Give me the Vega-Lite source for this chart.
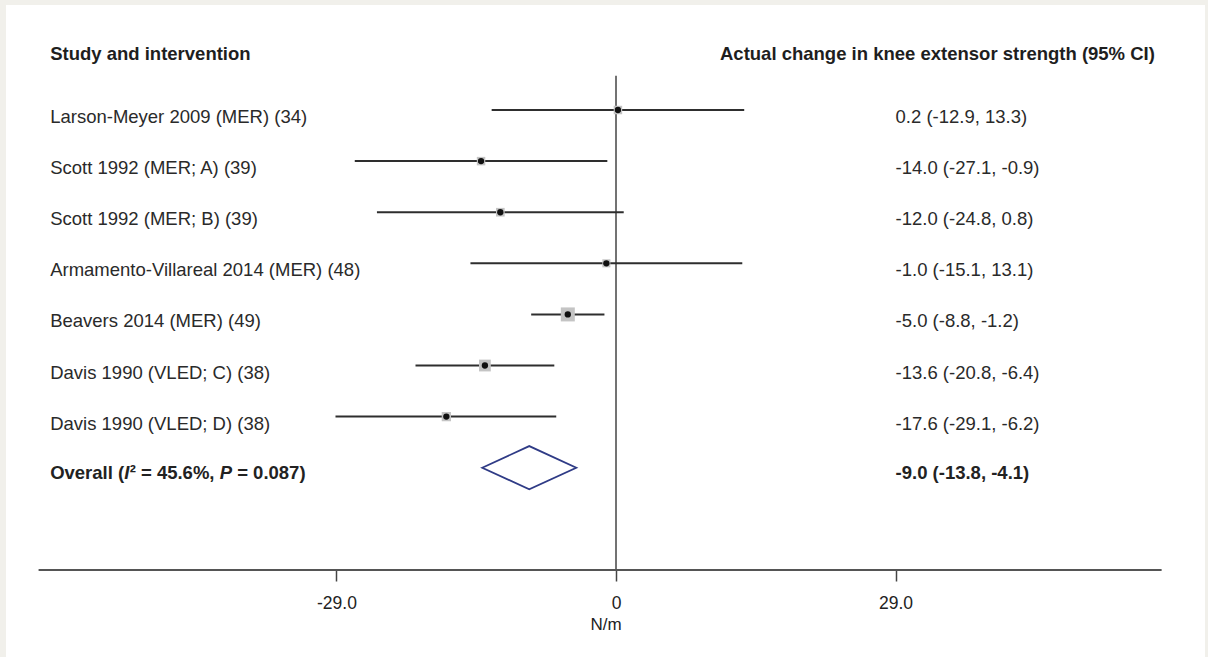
{
  "$schema": "https://vega.github.io/schema/vega-lite/v6.json",
  "width": 1199,
  "height": 652,
  "autosize": {"type": "none"},
  "padding": {"left": 6, "top": 5, "right": 3, "bottom": 0},
  "background": "#f1f0eb",
  "data": {"values": [{}]},
  "config": {
    "view": {"fill": "white", "stroke": null},
    "font": "Liberation Sans",
    "axisX": {
      "domain": false,
      "grid": false,
      "offset": -87,
      "tickSize": 11,
      "tickWidth": 1.5,
      "tickColor": "#444",
      "labelFontSize": 17.5,
      "labelColor": "#222",
      "labelFont": "Liberation Sans",
      "labelPadding": 13,
      "titleFont": "Liberation Sans",
      "titleFontSize": 17,
      "titleFontWeight": "normal",
      "titleColor": "#222",
      "titlePadding": 5
    }
  },
  "datasets": {
    "studies": [
      {"study": "Larson-Meyer 2009 (MER) (34)", "row": 1, "est": 0.2, "lower": -12.9, "upper": 13.3, "ci": "0.2 (-12.9, 13.3)", "weight": 10.2},
      {"study": "Scott 1992 (MER; A) (39)", "row": 2, "est": -14.0, "lower": -27.1, "upper": -0.9, "ci": "-14.0 (-27.1, -0.9)", "weight": 10.2},
      {"study": "Scott 1992 (MER; B) (39)", "row": 3, "est": -12.0, "lower": -24.8, "upper": 0.8, "ci": "-12.0 (-24.8, 0.8)", "weight": 10.6},
      {"study": "Armamento-Villareal 2014 (MER) (48)", "row": 4, "est": -1.0, "lower": -15.1, "upper": 13.1, "ci": "-1.0 (-15.1, 13.1)", "weight": 9.2},
      {"study": "Beavers 2014 (MER) (49)", "row": 5, "est": -5.0, "lower": -8.8, "upper": -1.2, "ci": "-5.0 (-8.8, -1.2)", "weight": 27.8},
      {"study": "Davis 1990 (VLED; C) (38)", "row": 6, "est": -13.6, "lower": -20.8, "upper": -6.4, "ci": "-13.6 (-20.8, -6.4)", "weight": 19.8},
      {"study": "Davis 1990 (VLED; D) (38)", "row": 7, "est": -17.6, "lower": -29.1, "upper": -6.2, "ci": "-17.6 (-29.1, -6.2)", "weight": 12.2}
    ],
    "overall": [
      {"p1": "Overall (", "p2": "I", "p3": "² = 45.6%,", "p4": "P", "p5": "= 0.087)", "row": 8, "est": -9.0, "lower": -13.8, "upper": -4.1, "ci": "-9.0 (-13.8, -4.1)"}
    ],
    "headers": [
      {"left": "Study and intervention", "right": "Actual change in knee extensor strength (95% CI)", "row": 0}
    ]
  },
  "layer": [
    {
      "mark": {"type": "rule", "color": "#444", "strokeWidth": 1.5},
      "encoding": {
        "x": {
          "datum": 0, "type": "quantitative",
          "scale": {"domain": [-63.28, 61.10], "nice": false, "zero": false},
          "title": "N/m",
          "axis": {"values": [-29, 0, 29], "labelExpr": "datum.value == 0 ? '0' : (datum.value < 0 ? '-' : '') + format(abs(datum.value), '.1f')", "title": "N/m"}
        },
        "y": {"datum": 0.33, "type": "quantitative", "scale": {"domain": [-1.055, 11.704], "reverse": true, "nice": false, "zero": false}, "axis": null},
        "y2": {"datum": 10}
      }
    },
    {
      "mark": {"type": "rule", "color": "#555", "strokeWidth": 2},
      "encoding": {
        "x": {"datum": -59.9, "type": "quantitative"},
        "x2": {"datum": 56.6},
        "y": {"datum": 10, "type": "quantitative"}
      }
    },
    {
      "data": {"name": "studies"},
      "mark": {"type": "rule", "color": "#2e2e2e", "strokeWidth": 2},
      "encoding": {
        "x": {"field": "lower", "type": "quantitative"},
        "x2": {"field": "upper"},
        "y": {"field": "row", "type": "quantitative"}
      }
    },
    {
      "data": {"name": "studies"},
      "mark": {"type": "point", "shape": "square", "filled": true, "color": "#c4c4c4", "opacity": 1},
      "encoding": {
        "x": {"field": "est", "type": "quantitative"},
        "y": {"field": "row", "type": "quantitative"},
        "size": {"field": "weight", "type": "quantitative", "scale": {"domain": [0, 27.8], "range": [0, 196]}, "legend": null}
      }
    },
    {
      "data": {"name": "studies"},
      "mark": {"type": "point", "shape": "circle", "filled": true, "color": "#111", "opacity": 1, "size": 40},
      "encoding": {
        "x": {"field": "est", "type": "quantitative"},
        "y": {"field": "row", "type": "quantitative"}
      }
    },
    {
      "data": {"name": "overall"},
      "mark": {"type": "point", "shape": "M-1,0L0,-0.46L1,0L0,0.46Z", "filled": false, "stroke": "#2f3b86", "strokeWidth": 1.8, "opacity": 1, "size": 8836},
      "encoding": {
        "x": {"field": "est", "type": "quantitative"},
        "y": {"field": "row", "type": "quantitative"}
      }
    },
    {
      "data": {"name": "studies"},
      "mark": {"type": "text", "align": "left", "baseline": "middle", "dy": 7, "fontSize": 18.5, "color": "#2a2a2a", "font": "Liberation Sans"},
      "encoding": {
        "x": {"datum": -58.7, "type": "quantitative"},
        "y": {"field": "row", "type": "quantitative"},
        "text": {"field": "study"}
      }
    },
    {
      "data": {"name": "studies"},
      "mark": {"type": "text", "align": "left", "baseline": "middle", "dy": 7, "fontSize": 18.5, "color": "#2a2a2a", "font": "Liberation Sans"},
      "encoding": {
        "x": {"datum": 29, "type": "quantitative"},
        "y": {"field": "row", "type": "quantitative"},
        "text": {"field": "ci"}
      }
    },
    {
      "data": {"name": "overall"},
      "mark": {"type": "text", "align": "left", "baseline": "middle", "dy": 5, "fontSize": 18.5, "fontWeight": "bold", "color": "#222", "font": "Liberation Sans"},
      "encoding": {
        "x": {"datum": -58.7, "type": "quantitative"},
        "y": {"field": "row", "type": "quantitative"},
        "text": {"field": "p1"}
      }
    },
    {
      "data": {"name": "overall"},
      "mark": {"type": "text", "align": "left", "baseline": "middle", "dy": 5, "dx": 74, "fontSize": 18.5, "fontWeight": "bold", "fontStyle": "italic", "color": "#222", "font": "Liberation Sans"},
      "encoding": {
        "x": {"datum": -58.7, "type": "quantitative"},
        "y": {"field": "row", "type": "quantitative"},
        "text": {"field": "p2"}
      }
    },
    {
      "data": {"name": "overall"},
      "mark": {"type": "text", "align": "left", "baseline": "middle", "dy": 5, "dx": 79.5, "fontSize": 18.5, "fontWeight": "bold", "color": "#222", "font": "Liberation Sans"},
      "encoding": {
        "x": {"datum": -58.7, "type": "quantitative"},
        "y": {"field": "row", "type": "quantitative"},
        "text": {"field": "p3"}
      }
    },
    {
      "data": {"name": "overall"},
      "mark": {"type": "text", "align": "left", "baseline": "middle", "dy": 5, "dx": 169.5, "fontSize": 18.5, "fontWeight": "bold", "fontStyle": "italic", "color": "#222", "font": "Liberation Sans"},
      "encoding": {
        "x": {"datum": -58.7, "type": "quantitative"},
        "y": {"field": "row", "type": "quantitative"},
        "text": {"field": "p4"}
      }
    },
    {
      "data": {"name": "overall"},
      "mark": {"type": "text", "align": "left", "baseline": "middle", "dy": 5, "dx": 187, "fontSize": 18.5, "fontWeight": "bold", "color": "#222", "font": "Liberation Sans"},
      "encoding": {
        "x": {"datum": -58.7, "type": "quantitative"},
        "y": {"field": "row", "type": "quantitative"},
        "text": {"field": "p5"}
      }
    },
    {
      "data": {"name": "overall"},
      "mark": {"type": "text", "align": "left", "baseline": "middle", "dy": 5, "fontSize": 18.5, "fontWeight": "bold", "color": "#222", "font": "Liberation Sans"},
      "encoding": {
        "x": {"datum": 29, "type": "quantitative"},
        "y": {"field": "row", "type": "quantitative"},
        "text": {"field": "ci"}
      }
    },
    {
      "data": {"name": "headers"},
      "mark": {"type": "text", "align": "left", "baseline": "middle", "dy": -5, "fontSize": 18.5, "fontWeight": "bold", "color": "#1e1e1e", "font": "Liberation Sans"},
      "encoding": {
        "x": {"datum": -58.7, "type": "quantitative"},
        "y": {"field": "row", "type": "quantitative"},
        "text": {"field": "left"}
      }
    },
    {
      "data": {"name": "headers"},
      "mark": {"type": "text", "align": "right", "baseline": "middle", "dy": -5, "fontSize": 18.5, "fontWeight": "bold", "color": "#1e1e1e", "font": "Liberation Sans"},
      "encoding": {
        "x": {"datum": 55.9, "type": "quantitative"},
        "y": {"field": "row", "type": "quantitative"},
        "text": {"field": "right"}
      }
    }
  ]
}
